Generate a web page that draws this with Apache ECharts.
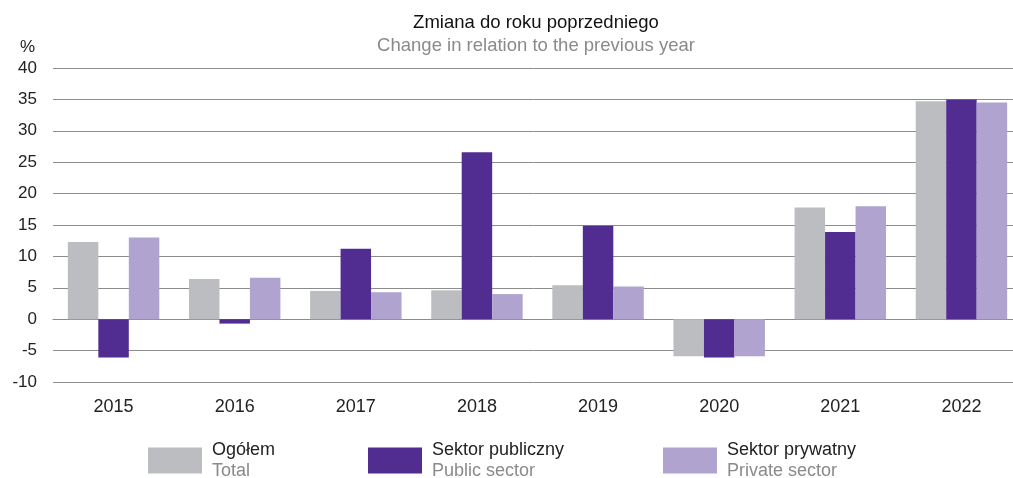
<!DOCTYPE html>
<html>
<head>
<meta charset="utf-8">
<script src="https://cdn.jsdelivr.net/npm/echarts@6/dist/echarts.min.js"></script>
<style>
	html,body{margin:0;padding:0;background:#fff;}
	#chart{width:1013px;height:478px;}
</style>
</head>
<body>
<div id="chart"></div>
<script>
var years = ['2015','2016','2017','2018','2019','2020','2021','2022'];
var ogolem = [12.3, 6.4, 4.5, 4.6, 5.4, -5.9, 17.8, 34.7];
var publiczny = [-6.1, -0.7, 11.2, 26.6, 14.9, -6.1, 13.9, 35.0];
var prywatny = [13.0, 6.6, 4.3, 4.0, 5.2, -5.9, 18.0, 34.5];
var yTicks = [-10, -5, 0, 5, 10, 15, 20, 25, 30, 35, 40];

var names = [
	{pl:'Ogółem', en:'Total', color:'#bcbdc0', data:ogolem, left:143},
	{pl:'Sektor publiczny', en:'Public sector', color:'#522d91', data:publiczny, left:363},
	{pl:'Sektor prywatny', en:'Private sector', color:'#b0a3cf', data:prywatny, left:658}
];

var font = 'Liberation Sans, Arial, sans-serif';

var charts = echarts.init(document.getElementById('chart'));

var Series = [];
var legends = [];
for (var i = 0; i < names.length; i++) {
	Series.push({
		name: names[i].pl,
		type: 'bar',
		data: names[i].data,
		barGap: '0%',
		barCategoryGap: '24.5%',
		itemStyle: {color: names[i].color}
	});
	//one legend per item so each can sit where it sits in the picture
	legends.push({
		data: [names[i].pl],
		left: names[i].left,
		top: 436,
		itemWidth: 54,
		itemHeight: 26,
		icon: 'rect',
		selectedMode: false,
		formatter: (function(n){
			return function(){ return '{a|' + n.pl + '}\n{b|' + n.en + '}'; };
		})(names[i]),
		textStyle: {
			fontFamily: font,
			rich: {
				a: {fontSize: 18, color: '#222', lineHeight: 21, padding: [0,0,0,5], fontFamily: font},
				b: {fontSize: 18, color: '#8a8a8a', lineHeight: 21, padding: [0,0,0,5], fontFamily: font}
			}
		}
	});
}

var option = {
	animation: false,
	title: {
		text: 'Zmiana do roku poprzedniego',
		subtext: 'Change in relation to the previous year',
		left: 531,
		top: 8,
		textAlign: 'center',
		itemGap: 4,
		textStyle: {fontFamily: font, fontSize: 18.5, fontWeight: 'normal', color: '#111'},
		subtextStyle: {fontFamily: font, fontSize: 18.5, color: '#8a8a8a'}
	},
	legend: legends,
	//plot runs a little past the right edge, as in the picture
	grid: {
		left: 53,
		right: -9,
		top: 68,
		bottom: 96,
		outerBoundsMode: 'none'
	},
	xAxis: {
		type: 'category',
		data: years,
		axisTick: {show: false},
		axisLine: {onZero: true, lineStyle: {color: '#8c8c8c', width: 1}},
		axisLabel: {fontFamily: font, fontSize: 18, color: '#222', margin: 16},
		position: 'bottom'
	},
	yAxis: {
		type: 'value',
		min: yTicks[0],
		max: yTicks[yTicks.length - 1],
		interval: 5,
		name: '%',
		nameLocation: 'end',
		nameGap: 12,
		nameTextStyle: {fontFamily: font, fontSize: 17, color: '#222', align: 'right', padding: [0, 18, 0, 0]},
		axisLine: {show: false},
		axisTick: {show: false},
		axisLabel: {fontFamily: font, fontSize: 17, color: '#222', margin: 16},
		splitLine: {lineStyle: {color: '#8c8c8c', width: 1}}
	},
	series: Series
};

charts.setOption(option);
</script>
</body>
</html>
